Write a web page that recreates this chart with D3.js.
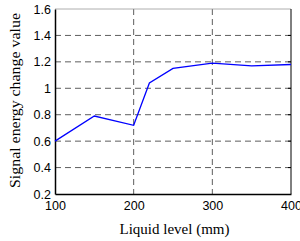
<!DOCTYPE html>
<html>
<head>
<meta charset="utf-8">
<script src="https://cdn.jsdelivr.net/npm/d3@7"></script>
<style>
	body { margin: 0; background: #fff; }
	.tick text { font-family: "Liberation Sans", Arial, sans-serif; font-size: 12.5px; fill: #000; }
	.axis-label { font-family: "Liberation Serif", "Times New Roman", serif; font-size: 15px; fill: #000; }
</style>
</head>
<body>
<svg id="chart" width="300" height="241"></svg>
<script>
var levels = [100, 150, 200, 220, 250, 300, 350, 400];
var energy = [0.60, 0.79, 0.72, 1.04, 1.15, 1.19, 1.17, 1.18];
var xTicks = [100, 200, 300, 400];
var yTicks = [0.2, 0.4, 0.6, 0.8, 1, 1.2, 1.4, 1.6];

var svg = d3.select('#chart');
var plotL = 55, plotT = 9, plotR = 291, plotB = 194;

var xScale = d3.scaleLinear().domain([100, 400]).range([plotL, plotR]);
var yScale = d3.scaleLinear().domain([0.2, 1.6]).range([plotB, plotT]);

// grid
var grid = svg.append('g').attr('stroke', '#000').attr('stroke-width', 0.9)
	.attr('stroke-dasharray', '6,4').attr('opacity', 0.7);
grid.selectAll('.gx').data(xTicks.slice(1, -1)).enter().append('line')
	.attr('x1', function(d) { return xScale(d); }).attr('x2', function(d) { return xScale(d); })
	.attr('y1', plotT).attr('y2', plotB);
grid.selectAll('.gy').data(yTicks.slice(1, -1)).enter().append('line')
	.attr('y1', function(d) { return yScale(d); }).attr('y2', function(d) { return yScale(d); })
	.attr('x1', plotL).attr('x2', plotR);

// frame
svg.append('line').attr('x1', plotL).attr('x2', plotR).attr('y1', plotT).attr('y2', plotT)
	.attr('stroke', '#999').attr('stroke-width', 0.8);
svg.append('line').attr('x1', plotR).attr('x2', plotR).attr('y1', plotT).attr('y2', plotB)
	.attr('stroke', '#000').attr('stroke-width', 1);

// axes
var xAxis = svg.append('g').attr('transform', 'translate(0,' + plotB + ')')
	.call(d3.axisBottom(xScale).tickValues(xTicks).tickSize(0).tickPadding(7).tickFormat(d3.format('d')));
var yAxis = svg.append('g').attr('transform', 'translate(' + plotL + ',0)')
	.call(d3.axisLeft(yScale).tickValues(yTicks).tickSize(0).tickPadding(4).tickFormat(function(d) { return String(d); }));
[xAxis, yAxis].forEach(function(a) {
	a.select('.domain').attr('stroke', '#000').attr('stroke-width', 1.5);
});

// inner ticks on right side
svg.selectAll('.rt').data(yTicks.slice(1, -1)).enter().append('line')
	.attr('x1', plotR - 3).attr('x2', plotR)
	.attr('y1', function(d) { return yScale(d); }).attr('y2', function(d) { return yScale(d); })
	.attr('stroke', '#000');

// line
var line = d3.line().x(function(d, i) { return xScale(levels[i]); }).y(function(d) { return yScale(d); });
svg.append('path').datum(energy).attr('d', line)
	.attr('fill', 'none').attr('stroke', '#0000ff').attr('stroke-width', 1.3);

// labels
svg.append('text').classed('axis-label', true)
	.attr('x', 174.5).attr('y', 234).attr('text-anchor', 'middle')
	.text('Liquid level (mm)');
svg.append('text').classed('axis-label', true)
	.attr('transform', 'translate(20,100.5) rotate(-90)').attr('text-anchor', 'middle')
	.attr('textLength', 175).attr('lengthAdjust', 'spacingAndGlyphs')
	.text('Signal energy change value');
</script>
</body>
</html>
